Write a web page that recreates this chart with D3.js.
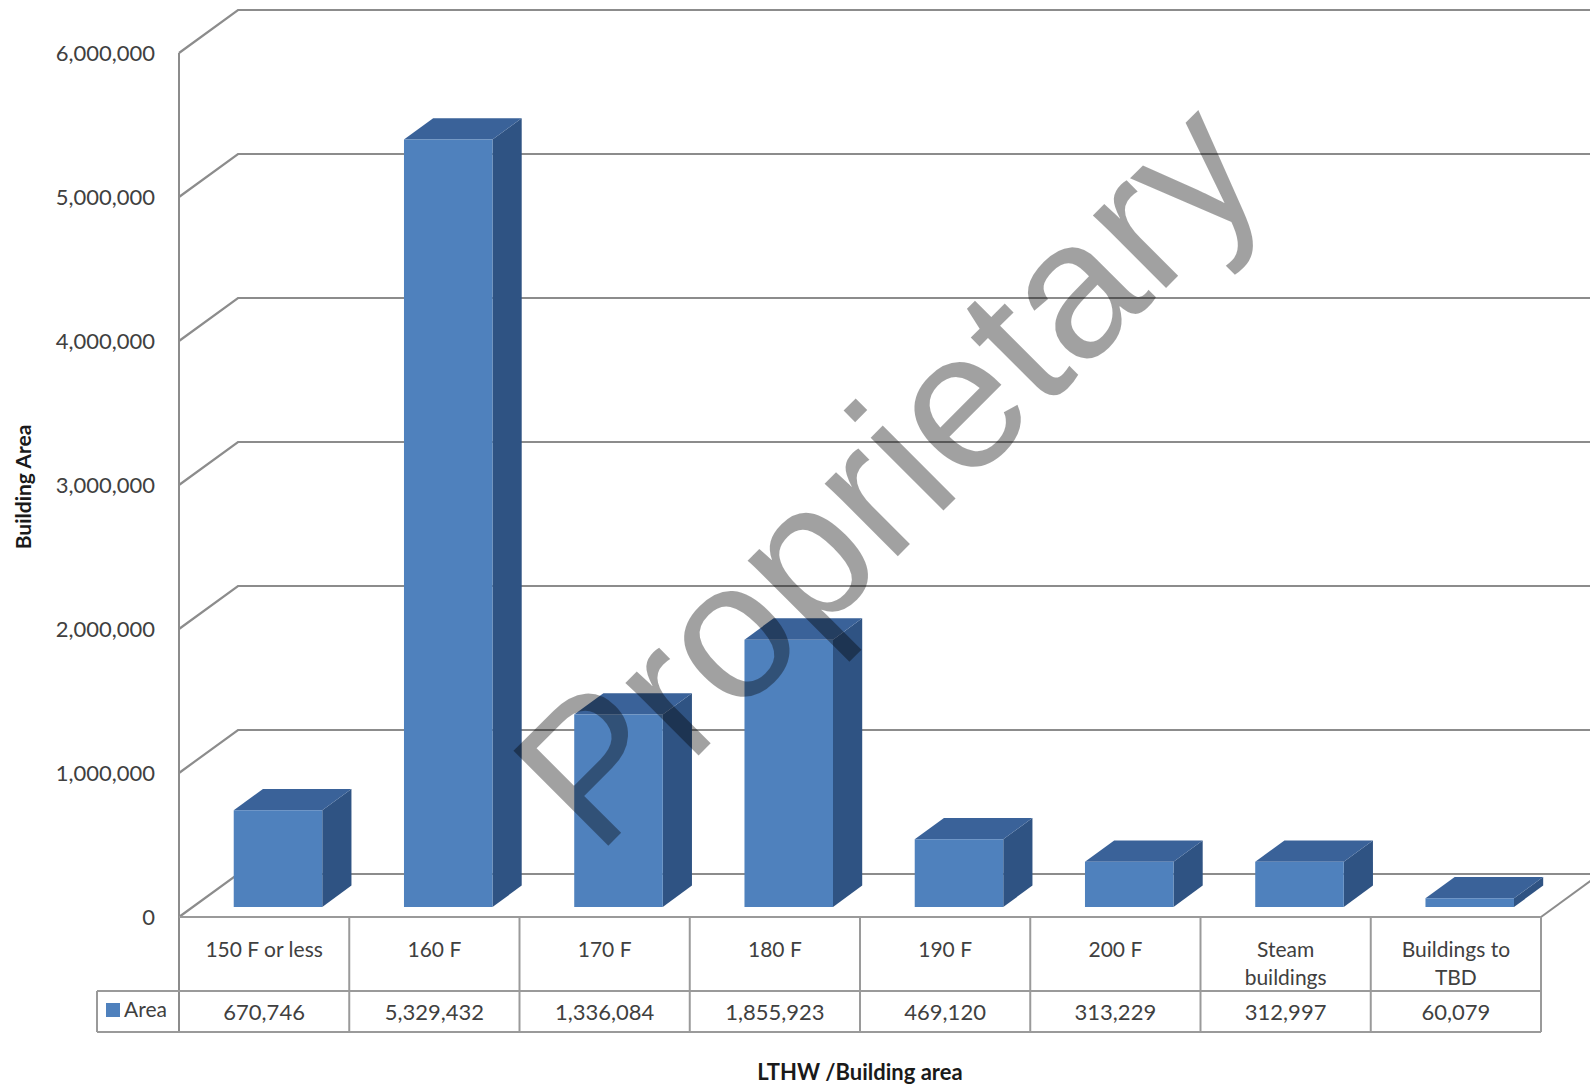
<!DOCTYPE html>
<html>
<head>
<meta charset="utf-8">
<script src="https://cdnjs.cloudflare.com/ajax/libs/d3/7.8.5/d3.min.js"></script>
<style>
  body { margin: 0; background: #fff; }
  text { font-family: Lato, "Open Sans", sans-serif; fill: #404040; }
</style>
</head>
<body>
<div id="chart"></div>
<script>
// chart data
var categories = ["150 F or less", "160 F", "170 F", "180 F", "190 F", "200 F", "Steam buildings", "Buildings to TBD"];
var categoryLines = [["150 F or less"], ["160 F"], ["170 F"], ["180 F"], ["190 F"], ["200 F"], ["Steam", "buildings"], ["Buildings to", "TBD"]];
var areaValues = [670746, 5329432, 1336084, 1855923, 469120, 313229, 312997, 60079];
var yTicks = [0, 1000000, 2000000, 3000000, 4000000, 5000000, 6000000];

var svgWidth = 1590;
var svgHeight = 1085;

// front plane of the 3D box and the depth offset of the back wall
var plotLeft = 179;
var plotRight = 1541;
var depthX = 59;
var depthY = 43;

var svg = d3.select("#chart")
  .append("svg")
  .attr("width", svgWidth)
  .attr("height", svgHeight);

var xScale = d3.scaleBand()
  .domain(categories)
  .range([plotLeft, plotRight]);

var yScale = d3.scaleLinear()
  .domain([0, 6000000])
  .range([917, 53]);

var fmt = d3.format(",");

// project a point at depth fraction z (0 = front, 1 = back)
function px(x, z) { return x + z * depthX; }
function py(y, z) { return y - z * depthY; }

// gridlines: short diagonal on the side wall, then across the back wall
svg.append("g")
  .selectAll("path")
  .data(yTicks)
  .enter()
  .append("path")
  .attr("d", d => {
    var y = yScale(d);
    return `M${plotLeft},${y} L${px(plotLeft, 1)},${py(y, 1)} L${svgWidth + 20},${py(y, 1)}`;
  })
  .attr("fill", "none")
  .attr("stroke", "#8c8c8c")
  .attr("stroke-width", 2.2);

// right edge of the floor
svg.append("line")
  .attr("x1", plotRight).attr("y1", yScale(0))
  .attr("x2", px(plotRight, 1)).attr("y2", py(yScale(0), 1))
  .attr("stroke", "#8c8c8c")
  .attr("stroke-width", 2);

// y axis line, runs down through the data table
svg.append("line")
  .attr("x1", plotLeft).attr("y1", yScale(6000000))
  .attr("x2", plotLeft).attr("y2", 1032)
  .attr("stroke", "#8c8c8c")
  .attr("stroke-width", 2);

// tick labels
svg.append("g")
  .selectAll("text")
  .data(yTicks)
  .enter()
  .append("text")
  .attr("x", 155)
  .attr("y", d => yScale(d))
  .attr("dy", "0.35em")
  .attr("text-anchor", "end")
  .style("font-size", "22px")
  .text(d => fmt(d));

// 3D bars
var barFrac = 0.52;
var z0 = 0.235, z1 = 0.73;
var barData = categories.map((c, i) => ({ cat: c, value: areaValues[i] }));

var bars = svg.append("g")
  .selectAll("g")
  .data(barData)
  .enter()
  .append("g");

function barBox(d) {
  var w = xScale.bandwidth() * barFrac;
  var xl = xScale(d.cat) + (xScale.bandwidth() - w) / 2;
  var xr = xl + w;
  var yb = yScale(0);
  var yt = yScale(d.value);
  return { xl: xl, xr: xr, yb: yb, yt: yt };
}

// side face
bars.append("path")
  .attr("d", d => {
    var b = barBox(d);
    return `M${px(b.xr, z0)},${py(b.yt, z0)} L${px(b.xr, z1)},${py(b.yt, z1)}` +
      ` L${px(b.xr, z1)},${py(b.yb, z1)} L${px(b.xr, z0)},${py(b.yb, z0)} Z`;
  })
  .attr("fill", "#2f5383");

// top face
bars.append("path")
  .attr("d", d => {
    var b = barBox(d);
    return `M${px(b.xl, z0)},${py(b.yt, z0)} L${px(b.xr, z0)},${py(b.yt, z0)}` +
      ` L${px(b.xr, z1)},${py(b.yt, z1)} L${px(b.xl, z1)},${py(b.yt, z1)} Z`;
  })
  .attr("fill", "#3a6299");

// front face
bars.append("path")
  .attr("d", d => {
    var b = barBox(d);
    return `M${px(b.xl, z0)},${py(b.yt, z0)} L${px(b.xr, z0)},${py(b.yt, z0)}` +
      ` L${px(b.xr, z0)},${py(b.yb, z0)} L${px(b.xl, z0)},${py(b.yb, z0)} Z`;
  })
  .attr("fill", "#4f81bd");

// data table
var tableTop = yScale(0);
var rowSplit = 991;
var tableBottom = 1032;
var legendLeft = 97;
var table = svg.append("g")
  .attr("stroke", "#9a9a9a")
  .attr("stroke-width", 2);

table.append("line")
  .attr("x1", plotLeft).attr("y1", tableTop)
  .attr("x2", plotRight).attr("y2", tableTop);
table.append("line")
  .attr("x1", legendLeft).attr("y1", rowSplit)
  .attr("x2", plotRight).attr("y2", rowSplit);
table.append("line")
  .attr("x1", legendLeft).attr("y1", tableBottom)
  .attr("x2", plotRight).attr("y2", tableBottom);
table.append("line")
  .attr("x1", legendLeft).attr("y1", rowSplit)
  .attr("x2", legendLeft).attr("y2", tableBottom);
table.selectAll(".col")
  .data(categories)
  .enter()
  .append("line")
  .attr("x1", d => xScale(d) + xScale.bandwidth())
  .attr("x2", d => xScale(d) + xScale.bandwidth())
  .attr("y1", tableTop)
  .attr("y2", tableBottom);

// category labels
svg.append("g")
  .selectAll("text")
  .data(categories)
  .enter()
  .append("text")
  .attr("x", d => xScale(d) + xScale.bandwidth() / 2)
  .attr("y", 950)
  .attr("text-anchor", "middle")
  .style("font-size", "21px")
  .each(function(d, i) {
    d3.select(this).selectAll("tspan")
      .data(categoryLines[i])
      .enter()
      .append("tspan")
      .attr("x", xScale(d) + xScale.bandwidth() / 2)
      .attr("dy", (t, j) => j === 0 ? "0.35em" : "1.3em")
      .text(t => t);
  });

// value row
svg.append("g")
  .selectAll("text")
  .data(barData)
  .enter()
  .append("text")
  .attr("x", d => xScale(d.cat) + xScale.bandwidth() / 2)
  .attr("y", 1012)
  .attr("dy", "0.35em")
  .attr("text-anchor", "middle")
  .style("font-size", "22px")
  .text(d => fmt(d.value));

// legend key in the table
svg.append("rect")
  .attr("x", 106).attr("y", 1003)
  .attr("width", 14).attr("height", 14)
  .attr("fill", "#4f81bd");
svg.append("text")
  .attr("x", 124).attr("y", 1010)
  .attr("dy", "0.35em")
  .style("font-size", "21px")
  .text("Area");

// axis titles
svg.append("text")
  .attr("transform", "translate(24, 487) rotate(-90)")
  .attr("text-anchor", "middle")
  .attr("dy", "0.35em")
  .style("font-size", "21px")
  .style("font-weight", "bold")
  .style("fill", "#1a1a1a")
  .text("Building Area");

svg.append("text")
  .attr("x", 860)
  .attr("y", 1072)
  .attr("dy", "0.35em")
  .attr("text-anchor", "middle")
  .style("font-size", "22px")
  .style("font-weight", "bold")
  .style("fill", "#1a1a1a")
  .text("LTHW /Building area");

// watermark
svg.append("text")
  .attr("transform", "translate(597, 857) rotate(-45)")
  .style("font-family", "'Liberation Sans', Arial, sans-serif")
  .style("font-size", "195px")
  .style("fill", "#000")
  .style("fill-opacity", 0.37)
  .text("Proprietary");
</script>
</body>
</html>
